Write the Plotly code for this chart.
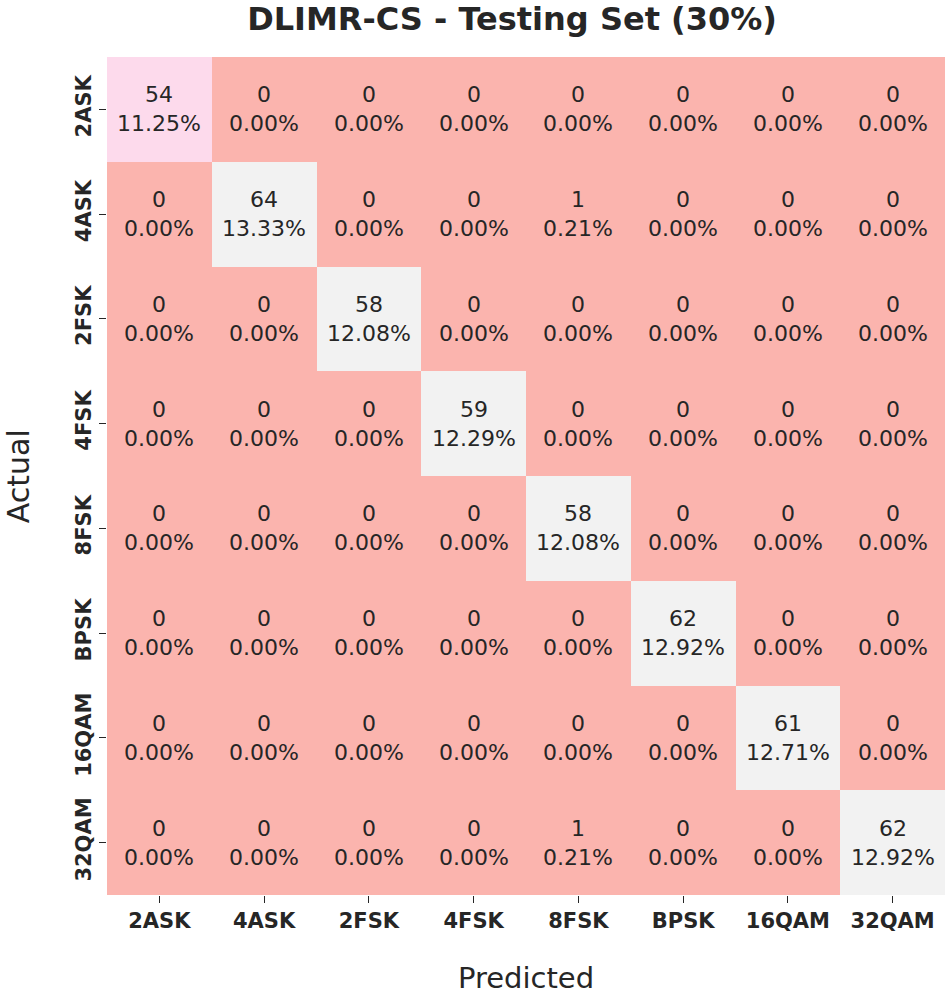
import plotly.graph_objects as go

labels = ["2ASK", "4ASK", "2FSK", "4FSK", "8FSK", "BPSK", "16QAM", "32QAM"]
counts = [
    [54, 0, 0, 0, 0, 0, 0, 0],
    [0, 64, 0, 0, 1, 0, 0, 0],
    [0, 0, 58, 0, 0, 0, 0, 0],
    [0, 0, 0, 59, 0, 0, 0, 0],
    [0, 0, 0, 0, 58, 0, 0, 0],
    [0, 0, 0, 0, 0, 62, 0, 0],
    [0, 0, 0, 0, 0, 0, 61, 0],
    [0, 0, 0, 0, 1, 0, 0, 62],
]
total = 480
pastel1 = ["#fbb4ae", "#b3cde3", "#ccebc5", "#decbe4", "#fed9a6",
           "#ffffcc", "#e5d8bd", "#fddaec", "#f2f2f2"]

n = len(pastel1)
colorscale = []
for k, c in enumerate(pastel1):
    colorscale.append([k / n, c])
    colorscale.append([(k + 1) / n - (1e-9 if k < n - 1 else 0), c])

zmax = max(max(r) for r in counts)
text = [[f"{v}<br>{v / total * 100:.2f}%" for v in row] for row in counts]

fig = go.Figure(go.Heatmap(
    z=counts, x=labels, y=labels, text=text, texttemplate="%{text}",
    textfont=dict(family="DejaVu Sans", size=22, color="#262626"),
    colorscale=colorscale, zmin=0, zmax=zmax, showscale=False, xgap=0, ygap=0,
    hoverinfo="skip",
))

fig.update_layout(
    width=950, height=997,
    margin=dict(l=107, r=5, t=57, b=102),
    paper_bgcolor="white", plot_bgcolor="white",
    title=dict(text="<b>DLIMR-CS - Testing Set (30%)</b>", x=0.539, xanchor="center",
               y=0.981, yanchor="middle", automargin=False,
               font=dict(family="DejaVu Sans", size=32, color="#262626")),
    xaxis=dict(title=dict(text="Predicted", font=dict(family="DejaVu Sans", size=29, color="#262626"), standoff=35),
               tickfont=dict(family="DejaVu Sans", size=21, color="#262626", weight="bold"),
               ticks="outside", ticklen=7, tickcolor="#262626", showgrid=False, zeroline=False,
               side="bottom", automargin=True),
    yaxis=dict(tickfont=dict(family="DejaVu Sans", size=21, color="#262626", weight="bold"),
               ticks="outside", ticklen=7, tickcolor="#262626", tickangle=-90,
               autorange="reversed", showgrid=False, zeroline=False, automargin=False),
    annotations=[dict(text="Actual", textangle=-90, xref="paper", yref="paper",
                      x=-0.106, y=0.5, xanchor="center", yanchor="middle", showarrow=False,
                      font=dict(family="DejaVu Sans", size=30, color="#262626"))],
)

fig.write_html("out.html", config={"displayModeBar": False},
               post_script="document.body.style.margin='0';")
